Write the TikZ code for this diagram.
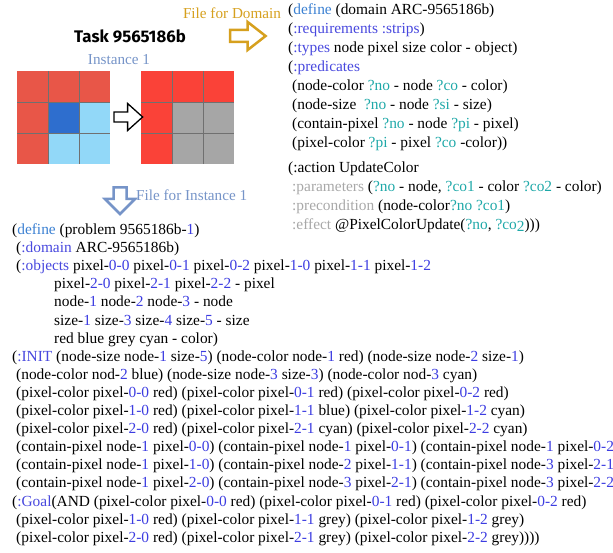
\documentclass[tikz,border=0pt]{standalone}
\usepackage{fontspec}
\setmainfont{Liberation Serif}
\newfontfamily\taskfont{Fira Sans}
\usetikzlibrary{shapes.arrows}
\definecolor{kwblue}{RGB}{72,72,222}
\definecolor{defblue}{RGB}{58,128,210}
\definecolor{numblue}{RGB}{60,60,225}
\definecolor{varteal}{RGB}{30,168,168}
\definecolor{kwgrey}{RGB}{168,168,168}
\definecolor{domgold}{RGB}{214,160,30}
\definecolor{instblue}{RGB}{118,148,200}
\definecolor{arcred}{RGB}{232,86,72}
\definecolor{outred}{RGB}{250,66,56}
\definecolor{arcblue}{RGB}{46,110,206}
\definecolor{arccyan}{RGB}{146,216,248}
\definecolor{arcgrey}{RGB}{166,166,166}
\definecolor{gridgrey}{RGB}{112,112,112}
\newcommand{\kwd}[1]{\textcolor{kwblue}{#1}}
\newcommand{\dkw}[1]{\textcolor{defblue}{#1}}
\newcommand{\nmb}[1]{\textcolor{numblue}{#1}}
\newcommand{\pvar}[1]{\textcolor{varteal}{#1}}
\newcommand{\gry}[1]{\textcolor{kwgrey}{#1}}
\tikzset{
  codetext/.style={anchor=base west, inner sep=0pt, align=left},
  lbltext/.style={inner sep=0pt, font=\fontsize{15.2}{18}\selectfont},
  gridline/.style={draw=gridgrey, line width=0.8pt},
  blockarrow/.style={single arrow, fill=white, inner sep=0pt, text width=0pt}
}
\begin{document}
\begin{tikzpicture}[x=1pt,y=-1pt]
\useasboundingbox (0,0) rectangle (613,553);
% title and labels
\node[inner sep=0pt, anchor=base, font=\taskfont\bfseries\fontsize{16.8}{18}\selectfont] (task) at (130,43) {Task 9565186b};
\node[lbltext, anchor=base, text=instblue] (inst) at (119,65) {Instance 1};
\node[lbltext, anchor=base, text=domgold] (filedom) at (232,19) {File for Domain};
\node[lbltext, anchor=base west, text=instblue] (fileinst) at (136,201) {File for Instance 1};
% grids
\foreach \clr [count=\k from 0] in {arcred,arcred,arcred,arcred,arcblue,arccyan,arcred,arccyan,arccyan}
  \fill[\clr] ({17+31*mod(\k,3)},{71+31*int(\k/3)}) rectangle +(31,31);
\foreach \clr [count=\k from 0] in {outred,outred,outred,outred,arcgrey,arcgrey,outred,arcgrey,arcgrey}
  \fill[\clr] ({141+31*mod(\k,3)},{71+31*int(\k/3)}) rectangle +(31,31);
\foreach \gx in {17,141}
  \foreach \g in {1,2} {
    \draw[gridline] ({\gx+31*\g},71) -- +(0,93);
    \draw[gridline] (\gx,{71+31*\g}) -- +(93,0);
  }
% arrows
\node[blockarrow, draw=black, line width=1.3pt, minimum height=28.7pt, text height=8.7pt, text depth=0pt,
  single arrow head extend=8.5pt, single arrow tip angle=84] (arrmid) at (125.5,117) {};
\node[blockarrow, draw=domgold, line width=2.5pt, minimum height=35.5pt, text height=9.5pt, text depth=0pt,
  single arrow head extend=8pt, single arrow tip angle=76] (arrdom) at (244,36) {};
\node[blockarrow, draw=instblue, line width=2.5pt, minimum height=26.5pt, text height=10.5pt, text depth=0pt,
  single arrow head extend=8.5pt, single arrow tip angle=90, rotate=-90] (arrinst) at (120,197.5) {};
% domain file (base = last line)
\node[codetext, font=\fontsize{15.4}{19.1}\selectfont] (domtext) at (288,229.4) {%
(\dkw{define} (domain ARC-9565186b)\\
(\kwd{:requirements :strips})\\
(\kwd{:types} node pixel size color - object)\\
(\kwd{:predicates}\\
\hspace*{4pt}(node-color \pvar{?no} - node \pvar{?co} - color)\\
\hspace*{4pt}(node-size \ \pvar{?no} - node \pvar{?si} - size)\\
\hspace*{4pt}(contain-pixel \pvar{?no} - node \pvar{?pi} - pixel)\\
\hspace*{4pt}(pixel-color \pvar{?pi} - pixel \pvar{?co} -color))\\[5pt]
(:action UpdateColor\\
\hspace*{4pt}\gry{:parameters} (\pvar{?no} - node, \pvar{?co1} - color \pvar{?co2} - color)\\
\hspace*{4pt}\gry{:precondition} (node-color\pvar{?no} \pvar{?co1})\\
\hspace*{4pt}\gry{:effect} @PixelColorUpdate(\pvar{?no}, \pvar{?co\raisebox{-2pt}{2}})))};
% instance file (base = last line)
\node[codetext, font=\fontsize{15.4}{18.1}\selectfont] (probtext) at (12,542.2) {%
(\dkw{define} (problem 9565186b-\nmb{1})\\
\hspace*{4pt}(\kwd{:domain} ARC-9565186b)\\
\hspace*{4pt}(\kwd{:objects} pixel-\nmb{0-0} pixel-\nmb{0-1} pixel-\nmb{0-2} pixel-\nmb{1-0} pixel-\nmb{1-1} pixel-\nmb{1-2}\\
\hspace*{42pt}pixel-\nmb{2-0} pixel-\nmb{2-1} pixel-\nmb{2-2} - pixel\\
\hspace*{42pt}node-\nmb{1} node-\nmb{2} node-\nmb{3} - node\\
\hspace*{42pt}size-\nmb{1} size-\nmb{3} size-\nmb{4} size-\nmb{5} - size\\
\hspace*{42pt}red blue grey cyan - color)\\
(\kwd{:INIT} (node-size node-\nmb{1} size-\nmb{5}) (node-color node-\nmb{1} red) (node-size node-\nmb{2} size-\nmb{1})\\
\hspace*{4pt}(node-color nod-\nmb{2} blue) (node-size node-\nmb{3} size-\nmb{3}) (node-color nod-\nmb{3} cyan)\\
\hspace*{4pt}(pixel-color pixel-\nmb{0-0} red) (pixel-color pixel-\nmb{0-1} red) (pixel-color pixel-\nmb{0-2} red)\\
\hspace*{4pt}(pixel-color pixel-\nmb{1-0} red) (pixel-color pixel-\nmb{1-1} blue) (pixel-color pixel-\nmb{1-2} cyan)\\
\hspace*{4pt}(pixel-color pixel-\nmb{2-0} red) (pixel-color pixel-\nmb{2-1} cyan) (pixel-color pixel-\nmb{2-2} cyan)\\
\hspace*{4pt}(contain-pixel node-\nmb{1} pixel-\nmb{0-0}) (contain-pixel node-\nmb{1} pixel-\nmb{0-1}) (contain-pixel node-\nmb{1} pixel-\nmb{0-2})\\
\hspace*{4pt}(contain-pixel node-\nmb{1} pixel-\nmb{1-0}) (contain-pixel node-\nmb{2} pixel-\nmb{1-1}) (contain-pixel node-\nmb{3} pixel-\nmb{2-1})\\
\hspace*{4pt}(contain-pixel node-\nmb{1} pixel-\nmb{2-0}) (contain-pixel node-\nmb{3} pixel-\nmb{2-1}) (contain-pixel node-\nmb{3} pixel-\nmb{2-2})\\
(\kwd{:Goal}(AND (pixel-color pixel-\nmb{0-0} red) (pixel-color pixel-\nmb{0-1} red) (pixel-color pixel-\nmb{0-2} red)\\
\hspace*{4pt}(pixel-color pixel-\nmb{1-0} red) (pixel-color pixel-\nmb{1-1} grey) (pixel-color pixel-\nmb{1-2} grey)\\
\hspace*{4pt}(pixel-color pixel-\nmb{2-0} red) (pixel-color pixel-\nmb{2-1} grey) (pixel-color pixel-\nmb{2-2} grey))))};
\end{tikzpicture}
\end{document}
